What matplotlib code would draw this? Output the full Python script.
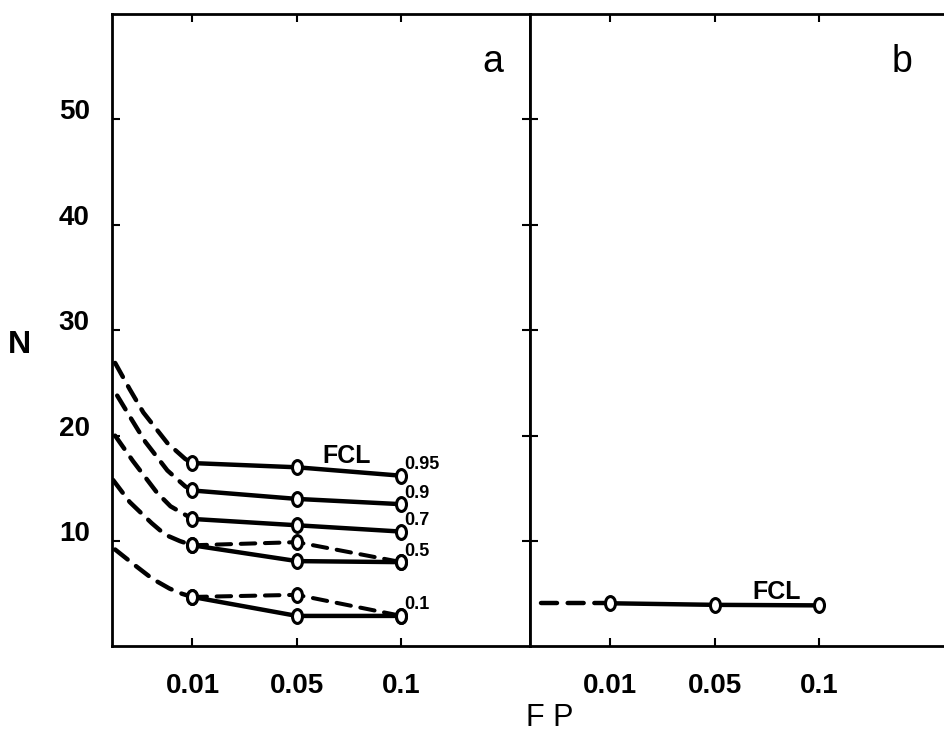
import matplotlib
matplotlib.use("Agg")
import matplotlib.pyplot as plt
from matplotlib.path import Path
from matplotlib.transforms import Affine2D

plt.rcParams["font.family"] = ["Liberation Sans", "DejaVu Sans"]

# FP categories, placed at equal spacing on the x axis
fp_labels = ["0.01", "0.05", "0.1"]
fp_pos = [1, 2, 3]

levels = ["0.95", "0.9", "0.7", "0.5", "0.1"]

# N at each FP (solid lines), panel a
n_solid = {
    "0.95": [17.4, 17.0, 16.2],
    "0.9": [14.8, 14.0, 13.5],
    "0.7": [12.1, 11.5, 10.9],
    "0.5": [9.6, 8.1, 8.0],
    "0.1": [4.7, 2.9, 2.9],
}
# alternative (dashed) branches, panel a
n_dashed = {
    "0.5": [9.6, 9.9, 8.0],
    "0.1": [4.7, 4.9, 2.9],
}
# dashed lead-in curves (x in axis units, y = N)
lead_x = {
    "0.95": [0.26, 0.40, 0.53, 0.76, 0.93, 1.0],
    "0.9": [0.28, 0.42, 0.55, 0.76, 0.93, 1.0],
    "0.7": [0.26, 0.43, 0.66, 0.79, 0.93, 1.0],
    "0.5": [0.24, 0.40, 0.61, 0.74, 0.88, 1.0],
    "0.1": [0.26, 0.45, 0.62, 0.78, 0.90, 1.0],
}
lead_y = {
    "0.95": [26.9, 24.4, 22.2, 19.3, 17.8, 17.4],
    "0.9": [23.8, 21.5, 19.4, 16.7, 15.2, 14.8],
    "0.7": [20.0, 17.6, 14.6, 13.3, 12.5, 12.1],
    "0.5": [15.8, 13.7, 11.7, 10.6, 10.0, 9.6],
    "0.1": [9.2, 7.7, 6.4, 5.5, 5.0, 4.7],
}

# panel b
b_solid = [4.1, 3.95, 3.9]
b_lead_x = [0.34, 1.0]
b_lead_y = [4.1, 4.1]

yticks = [10, 20, 30, 40, 50]

ell = Path.unit_circle().transformed(Affine2D().scale(0.72, 1.0))
LW = 3.2
DASH = (3.6, 2.4)
MK = dict(marker=ell, markersize=10, mfc="white", mec="black", mew=2.2)
DKW = dict(color="black", dashes=DASH, dash_capstyle="round",
           dash_joinstyle="round")

fig = plt.figure(figsize=(9.45, 7.38), dpi=100)
ax_a = fig.add_axes([0.1185, 0.124, 0.4423, 0.857])
ax_b = fig.add_axes([0.5608, 0.124, 0.4423, 0.857])

for ax in (ax_a, ax_b):
    ax.set_xlim(0.23, 4.23)
    ax.set_ylim(0, 60)
    ax.set_xticks(fp_pos)
    ax.set_xticklabels(fp_labels, fontsize=20, fontweight="bold")
    ax.set_yticks(yticks)
    for s in ax.spines.values():
        s.set_linewidth(2.0)
    ax.tick_params(direction="in", length=6, width=1.5, top=True,
                   bottom=True, left=True, right=True)
    ax.tick_params(axis="x", pad=19)

ax_a.set_yticklabels([str(v) for v in yticks], fontsize=20,
                     fontweight="bold", va="baseline")
ax_a.tick_params(axis="y", pad=16)
ax_b.tick_params(axis="y", labelleft=False, right=False)
ax_b.spines["right"].set_visible(False)

# panel a
for lv in levels:
    ax_a.plot(lead_x[lv], lead_y[lv], lw=LW, zorder=2, **DKW)
    if lv in n_dashed:
        ax_a.plot(fp_pos, n_dashed[lv], lw=LW - 0.3, zorder=2, **DKW)
        ax_a.plot(fp_pos, n_dashed[lv], ls="none", zorder=4, **MK)
    ax_a.plot(fp_pos, n_solid[lv], color="black", lw=LW, zorder=3)
    ax_a.plot(fp_pos, n_solid[lv], ls="none", zorder=4, **MK)
    ax_a.annotate(lv, (fp_pos[-1], n_solid[lv][-1]), xytext=(2, 8),
                  textcoords="offset points", fontsize=13,
                  fontweight="bold", ha="left", va="center")

ax_a.text(2.48, 18.1, "FCL", fontsize=18, fontweight="bold",
          ha="center", va="center")
ax_a.text(0.911, 0.924, "a", transform=ax_a.transAxes, fontsize=27,
          ha="center", va="center")

# panel b
ax_b.plot(b_lead_x, b_lead_y, lw=LW, zorder=2, **DKW)
ax_b.plot(fp_pos, b_solid, color="black", lw=LW, zorder=3)
ax_b.plot(fp_pos, b_solid, ls="none", zorder=4, **MK)
ax_b.text(2.59, 5.2, "FCL", fontsize=18, fontweight="bold",
          ha="center", va="center")
ax_b.text(0.89, 0.924, "b", transform=ax_b.transAxes, fontsize=27,
          ha="center", va="center")

fig.text(0.582, 0.027, "F P", fontsize=22, ha="center", va="center")
fig.text(0.021, 0.5325, "N", fontsize=23, fontweight="bold",
         ha="center", va="center")

fig.savefig("out.png", dpi=100)
